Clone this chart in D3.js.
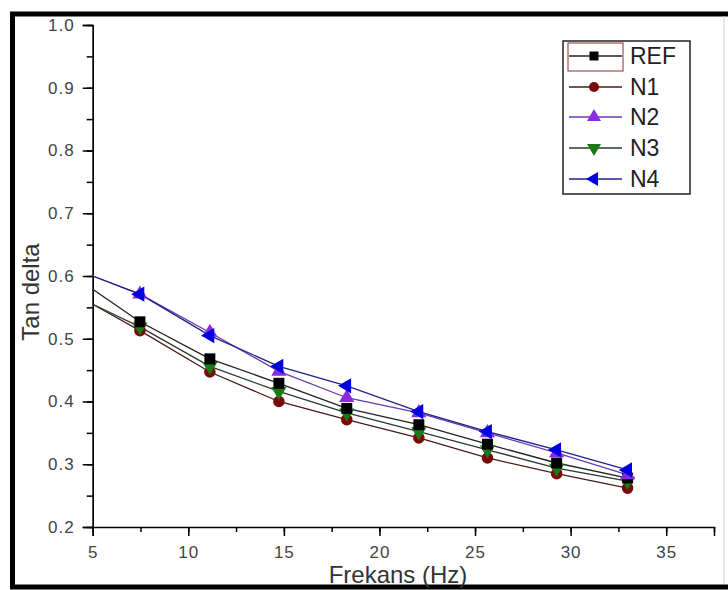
<!DOCTYPE html>
<html><head><meta charset="utf-8">
<script src="https://cdn.jsdelivr.net/npm/d3@7"></script>
<style>body{margin:0;background:#fff}svg{display:block}text{font-family:Arial,"Liberation Sans",sans-serif}</style>
</head><body>
<script>
const freq = [5, 7.47, 11.13, 14.74, 18.29, 22.06, 25.65, 29.27, 32.98];
const REF = [0.579, 0.527, 0.468, 0.429, 0.389, 0.363, 0.332, 0.302, 0.278];
const N1  = [0.555, 0.513, 0.447, 0.400, 0.371, 0.342, 0.310, 0.285, 0.262];
const N2  = [0.600, 0.571, 0.510, 0.448, 0.406, 0.382, 0.350, 0.318, 0.283];
const N3  = [0.555, 0.519, 0.456, 0.416, 0.382, 0.352, 0.323, 0.294, 0.273];
const N4  = [0.600, 0.571, 0.505, 0.456, 0.425, 0.384, 0.352, 0.323, 0.291];
const seriesNames = ["REF", "N1", "N2", "N3", "N4"];
const seriesValues = [REF, N1, N2, N3, N4];
const colors = ["#000000", "#7a0a0a", "#8a2be2", "#1a7a1a", "#0000e0"];
const lineColors = ["#222222", "#4a1a1a", "#6a3ab0", "#2a3a2a", "#20208a"];
const symbols = [d3.symbolSquare, d3.symbolCircle, d3.symbolTriangle, "down", "left"];
const xTicks = [5, 10, 15, 20, 25, 30, 35];
const yTicks = [0.2, 0.3, 0.4, 0.5, 0.6, 0.7, 0.8, 0.9, 1.0];
const xTitle = "Frekans (Hz)", yTitle = "Tan delta";

const W = 728, H = 590;
const svg = d3.select("body").append("svg").attr("width", W).attr("height", H);
// frame
svg.append("rect").attr("x", 12.5).attr("y", 14).attr("width", 740).attr("height", 573)
  .attr("fill", "none").attr("stroke", "#000").attr("stroke-width", 5);
svg.append("line").attr("x1", 724).attr("x2", 724).attr("y1", 16).attr("y2", 584).attr("stroke", "#ccc").attr("stroke-width", 1);

const x = d3.scaleLinear().domain([5, 37.5]).range([92.7, 714]);
const y = d3.scaleLinear().domain([0.2, 1.0]).range([527, 25]);

const gx = svg.append("g").attr("transform", `translate(0,${y(0.2)})`);
gx.call(d3.axisBottom(x).tickValues(d3.range(5, 37.6, 2.5)).tickSize(5).tickFormat(""));
gx.call(g => g.selectAll(".tick line").attr("stroke-width", 1.5));
const gx2 = svg.append("g").attr("transform", `translate(0,${y(0.2)})`);
gx2.call(d3.axisBottom(x).tickValues(xTicks).tickSize(9).tickFormat(d3.format("d")));
gx2.select(".domain").attr("stroke-width", 1.5);
gx2.selectAll(".tick line").attr("stroke-width", 1.5);
gx2.selectAll(".tick text").attr("font-size", 17).attr("letter-spacing", 1).attr("fill", "#444")
  .attr("y", 19).attr("dy", "0.71em");

const gy = svg.append("g").attr("transform", `translate(${x(5)},0)`);
gy.call(d3.axisLeft(y).tickValues(d3.range(0.2, 1.001, 0.05)).tickSize(6).tickFormat(""));
gy.selectAll(".tick line").attr("stroke-width", 1.5);
const gy2 = svg.append("g").attr("transform", `translate(${x(5)},0)`);
gy2.call(d3.axisLeft(y).tickValues(yTicks).tickSize(10).tickFormat(d3.format(".1f")));
gy2.select(".domain").attr("stroke-width", 1.5);
gy2.selectAll(".tick line").attr("stroke-width", 1.5);
gy2.selectAll(".tick text").attr("font-size", 17).attr("letter-spacing", 1).attr("fill", "#444").attr("x", -18);

svg.append("text").attr("x", 398).attr("y", 583).attr("text-anchor", "middle")
  .attr("font-size", 24).attr("fill", "#333").text(xTitle);
svg.append("text").attr("transform", "translate(39,292) rotate(-90)").attr("text-anchor", "middle")
  .attr("font-size", 24).attr("fill", "#333").text(yTitle);

function markerPath(s, size) {
  if (s === "down" || s === "left") return d3.symbol(d3.symbolTriangle, size)();
  return d3.symbol(s, size)();
}
function markerRot(s) { return s === "down" ? 180 : (s === "left" ? -90 : 0); }
const sizes = [120, 105, 100, 100, 100];

const line = d3.line().x((d, i) => x(freq[i])).y(d => y(d));
const order = [1, 3, 0, 2, 4];
order.forEach(k => {
  svg.append("path").datum(seriesValues[k]).attr("d", line)
    .attr("fill", "none").attr("stroke", lineColors[k]).attr("stroke-width", 1.3);
});
order.forEach(k => {
  svg.append("g").selectAll("path").data(seriesValues[k].map((v, i) => [freq[i], v]).filter(d => d[0] > 5))
    .join("path").attr("d", markerPath(symbols[k], sizes[k]))
    .attr("transform", d => `translate(${x(d[0])},${y(d[1])}) rotate(${markerRot(symbols[k])})`)
    .attr("fill", colors[k]);
});

// legend
const lg = svg.append("g");
lg.append("rect").attr("x", 563).attr("y", 41).attr("width", 127).attr("height", 153)
  .attr("fill", "#fff").attr("stroke", "#222").attr("stroke-width", 1.5);
lg.append("rect").attr("x", 568).attr("y", 43).attr("width", 55).attr("height", 28)
  .attr("fill", "none").attr("stroke", "#a05050").attr("stroke-width", 1.2);
const rowY = [56, 87, 117, 148, 179];
const lsizes = [80, 80, 85, 85, 85];
seriesNames.forEach((n, k) => {
  lg.append("line").attr("x1", 569).attr("x2", 622).attr("y1", rowY[k]).attr("y2", rowY[k])
    .attr("stroke", lineColors[k]).attr("stroke-width", 1.3);
  lg.append("path").attr("d", markerPath(symbols[k], lsizes[k]))
    .attr("transform", `translate(594,${rowY[k]}) rotate(${markerRot(symbols[k])})`).attr("fill", colors[k]);
  lg.append("text").attr("x", 630).attr("y", rowY[k]).attr("dy", "0.36em")
    .attr("font-size", 23).attr("fill", "#222").text(n);
});
</script>
</body></html>
